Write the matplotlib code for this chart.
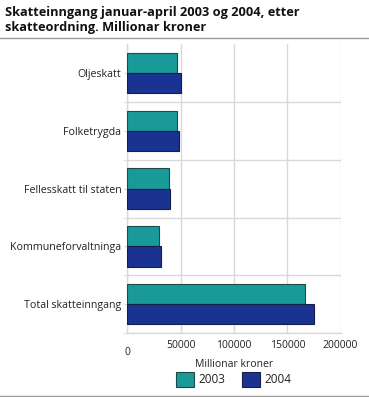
import matplotlib
matplotlib.use("Agg")
import matplotlib.pyplot as plt
import numpy as np
from matplotlib.lines import Line2D

plt.rcParams['font.family'] = ['Open Sans', 'DejaVu Sans']

categories = ["Oljeskatt", "Folketrygda", "Fellesskatt til staten",
              "Kommuneforvaltninga", "Total skatteinngang"]
values_2003 = [46300, 46300, 38800, 29700, 166700]
values_2004 = [50400, 48200, 39800, 31900, 175400]
series_labels = ["2003", "2004"]
xticks = [0, 50000, 100000, 150000, 200000]
xtick_labels = ["0", "50000", "100000", "150000", "200000"]
title = "Skatteinngang januar-april 2003 og 2004, etter\nskatteordning. Millionar kroner"
xlabel = "Millionar kroner"

c2003 = "#1a9999"
c2004 = "#1a3390"
grid_c = "#d9d9d9"

fig = plt.figure(figsize=(3.69, 3.97), dpi=100)
ax = fig.add_axes([0.345, 0.1605, 0.578, 0.729])

y = np.arange(len(categories))
h = 0.347
ax.barh(y - h / 2, values_2003, height=h, color=c2003, edgecolor="#1f4a4a",
        linewidth=0.8, label=series_labels[0], zorder=3)
ax.barh(y + h / 2, values_2004, height=h, color=c2004, edgecolor="#13204a",
        linewidth=0.8, label=series_labels[1], zorder=3)

ax.set_ylim(len(categories) - 0.5, -0.5)
ax.set_xlim(0, 200000)
ax.set_yticks(y)
ax.set_yticklabels(categories, fontsize=7.7, color="#222222")
ax.set_yticks(np.arange(0.5, len(categories), 1.0), minor=True)
ax.set_xticks(xticks)
ax.set_xticklabels(xtick_labels, fontsize=7.5, color="#222222")
ax.tick_params(axis="x", length=0, pad=5)
ax.tick_params(axis="y", which="major", length=2, color=grid_c, pad=2.3)
ax.tick_params(axis="y", which="minor", length=3, color=grid_c)
ax.xaxis.get_major_ticks()[0].set_pad(10)

ax.grid(axis="x", which="major", color=grid_c, linewidth=1.0, zorder=0)
ax.grid(axis="y", which="minor", color=grid_c, linewidth=1.0, zorder=0)
for s in ["top", "right"]:
    ax.spines[s].set_visible(False)
ax.spines["left"].set_color(grid_c)
ax.spines["bottom"].set_color(grid_c)
ax.spines["left"].set_linewidth(1.0)
ax.spines["bottom"].set_linewidth(1.0)

ax.set_xlabel(xlabel, fontsize=7.5, color="#222222", labelpad=0.5)

leg = ax.legend(loc="upper center", bbox_to_anchor=(0.5, -0.133), ncol=2,
                frameon=False, fontsize=8.5, handlelength=1.53, handleheight=1.6,
                handletextpad=0.4, columnspacing=1.4, borderaxespad=0,
                borderpad=0)
for t in leg.get_texts():
    t.set_color("#222222")

fig.text(0.014, 0.985, title, fontsize=9.2, fontweight="bold", va="top",
         ha="left", color="#111111", linespacing=1.2)
fig.add_artist(Line2D([0, 1], [1 - 37.7 / 397, 1 - 37.7 / 397],
                      transform=fig.transFigure, color="#999999", linewidth=1.0))
fig.add_artist(Line2D([0, 1], [1 - 395.5 / 397, 1 - 395.5 / 397],
                      transform=fig.transFigure, color="#999999", linewidth=1.0))

fig.savefig("out.png", dpi=100)
